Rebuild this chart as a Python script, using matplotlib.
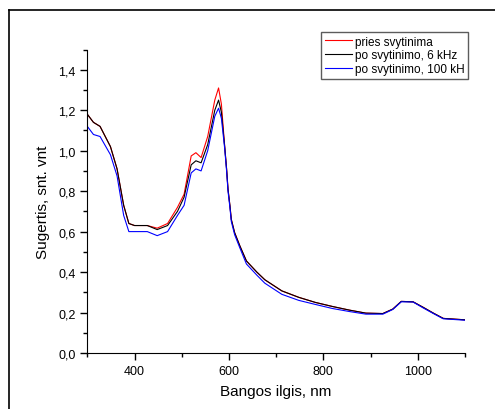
import matplotlib
matplotlib.use("Agg")
import matplotlib.pyplot as plt
from matplotlib.lines import Line2D
from matplotlib.ticker import MultipleLocator, FuncFormatter

plt.rcParams['font.family'] = ['Liberation Sans', 'DejaVu Sans']

wavelength = [300, 313, 327, 349, 363, 377, 388, 400, 427, 448, 470, 491, 505, 520, 530,
              541, 555, 570, 578, 584, 591, 595, 598, 602, 605, 612, 623, 637, 659, 676,
              712, 748, 783, 819, 855, 890, 926, 947, 965, 990, 1012, 1033, 1054, 1100]

pries = [1.18, 1.14, 1.12, 1.02, 0.91, 0.73, 0.64, 0.63, 0.63, 0.617, 0.64, 0.72, 0.785,
         0.974, 0.99, 0.966, 1.07, 1.25, 1.31, 1.23, 1.02, 0.91, 0.81, 0.73, 0.66,
         0.595, 0.53, 0.455, 0.40, 0.362,
         0.307, 0.275, 0.25, 0.23, 0.212, 0.197, 0.195, 0.217, 0.255, 0.253, 0.225,
         0.197, 0.171, 0.164]

po_6khz = [1.18, 1.14, 1.12, 1.02, 0.91, 0.73, 0.64, 0.63, 0.63, 0.61, 0.63, 0.70, 0.77,
           0.93, 0.95, 0.94, 1.03, 1.20, 1.25, 1.19, 1.02, 0.91, 0.81, 0.73, 0.66,
           0.595, 0.53, 0.455, 0.40, 0.362,
           0.307, 0.275, 0.25, 0.23, 0.212, 0.197, 0.195, 0.217, 0.255, 0.253, 0.225,
           0.197, 0.171, 0.164]

po_100kh = [1.12, 1.08, 1.07, 0.98, 0.875, 0.68, 0.60, 0.60, 0.60, 0.58, 0.60, 0.68, 0.73,
            0.89, 0.91, 0.90, 1.00, 1.17, 1.21, 1.16, 1.01, 0.90, 0.80, 0.72, 0.65,
            0.585, 0.52, 0.44, 0.385, 0.345,
            0.29, 0.26, 0.24, 0.22, 0.205, 0.192, 0.192, 0.215, 0.253, 0.252, 0.222,
            0.195, 0.169, 0.162]

labels = ['pries svytinima', 'po svytinimo, 6 kHz', 'po svytinimo, 100 kH']
colors = ['#ff0000', '#000000', '#0000ff']

fig = plt.figure(figsize=(4.95, 4.10), dpi=100)
ax = fig.add_axes([0.1764, 0.1366, 0.7630, 0.7402])

for y, lab, c in zip([pries, po_6khz, po_100kh], labels, colors):
    ax.plot(wavelength, y, color=c, lw=0.8, label=lab)

ax.set_xlim(300, 1100)
ax.set_ylim(0, 1.5)
ax.spines['top'].set_visible(False)
ax.spines['right'].set_visible(False)
ax.xaxis.set_major_locator(MultipleLocator(200))
ax.xaxis.set_minor_locator(MultipleLocator(100))
ax.yaxis.set_major_locator(MultipleLocator(0.2))
ax.yaxis.set_minor_locator(MultipleLocator(0.1))
ax.yaxis.set_major_formatter(FuncFormatter(lambda v, p: f"{v:.1f}".replace('.', ',')))
ax.tick_params(which='major', direction='out', length=5, width=1, labelsize=9)
ax.tick_params(which='minor', direction='out', length=3, width=1)
ax.set_xlabel('Bangos ilgis, nm', fontsize=11, labelpad=5)
ax.set_ylabel('Sugertis, snt. vnt', fontsize=11, labelpad=6)

leg = ax.legend(loc='upper right', bbox_to_anchor=(468/495, 1 - 33/410),
                bbox_transform=fig.transFigure, fontsize=8.5,
                frameon=True, fancybox=False, borderpad=0.3, labelspacing=0.15,
                handlelength=2.3, handletextpad=0.25, borderaxespad=0)
leg.get_frame().set_edgecolor('#333333')
leg.get_frame().set_linewidth(1.0)

fig.add_artist(Line2D([9/495, 9/495], [0, 1 - 11/410], color='black', lw=1.2,
                      transform=fig.transFigure))
fig.add_artist(Line2D([9/495, 1], [1 - 11/410, 1 - 11/410], color='black', lw=1.2,
                      transform=fig.transFigure))

fig.savefig('out.png', dpi=100)
